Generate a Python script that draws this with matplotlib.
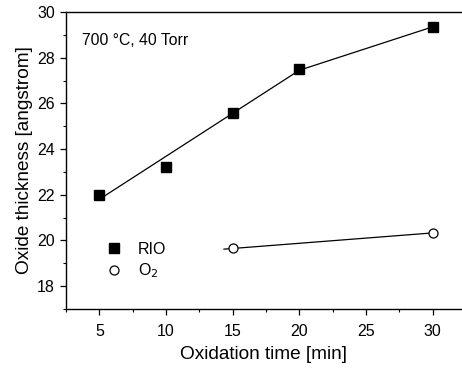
import numpy as np
import matplotlib.pyplot as plt
from matplotlib.ticker import MultipleLocator

plt.rcParams["font.family"] = ["Liberation Sans", "DejaVu Sans"]

# ---- Data ----
rio_time = [5, 10, 15, 20, 30]
rio_thick = [22.0, 23.2, 25.6, 27.5, 29.35]
rio_fit_time = [5, 20, 30]
rio_fit_thick = [21.8, 27.45, 29.35]

o2_time = [15, 30]
o2_thick = [19.65, 20.33]
o2_fit_time = [14.35, 30]
o2_fit_thick = [19.62, 20.33]

fig = plt.figure(figsize=(4.62, 3.69), dpi=100)
ax = fig.add_axes([66 / 462, 1 - 309 / 369, 1 - 66 / 462, (309 - 12) / 369])

# fit lines
ax.plot(rio_fit_time, rio_fit_thick, color="black", linewidth=0.9)
ax.plot(o2_fit_time, o2_fit_thick, color="black", linewidth=0.9)

# data points
ax.plot(rio_time, rio_thick, "s", color="black", markersize=6.5, label="RIO")
ax.plot(o2_time, o2_thick, "o", markerfacecolor="white", markeredgecolor="black",
        markeredgewidth=0.9, markersize=6.5, label="O$_2$")

ax.set_xlim(2.5, 32.2)
ax.set_ylim(17, 30)
ax.xaxis.set_major_locator(MultipleLocator(5))
ax.xaxis.set_minor_locator(MultipleLocator(2.5))
ax.yaxis.set_major_locator(MultipleLocator(2))
ax.yaxis.set_minor_locator(MultipleLocator(1))
ax.set_yticks([18, 20, 22, 24, 26, 28, 30])

ax.tick_params(which="major", direction="out", length=4.5, width=0.9, labelsize=11.5)
ax.tick_params(axis="x", which="major", pad=6)
ax.tick_params(which="minor", direction="out", length=2.5, width=0.8)
ax.spines["right"].set_visible(False)
for s in ["left", "bottom", "top"]:
    ax.spines[s].set_linewidth(1.0)

ax.set_xlabel("Oxidation time [min]", fontsize=13.7, labelpad=5)
ax.set_ylabel("Oxide thickness [angstrom]", fontsize=13.7, labelpad=3)

ax.text(0.04, 0.905, "700 °C, 40 Torr", transform=ax.transAxes, fontsize=11.3,
        va="center", ha="left")

ax.legend(loc="lower left", bbox_to_anchor=(0.06, 0.048), frameon=False,
          fontsize=11.5, handletextpad=0.9, labelspacing=0.3, handlelength=1.2)

fig.savefig("out.png", dpi=100)
